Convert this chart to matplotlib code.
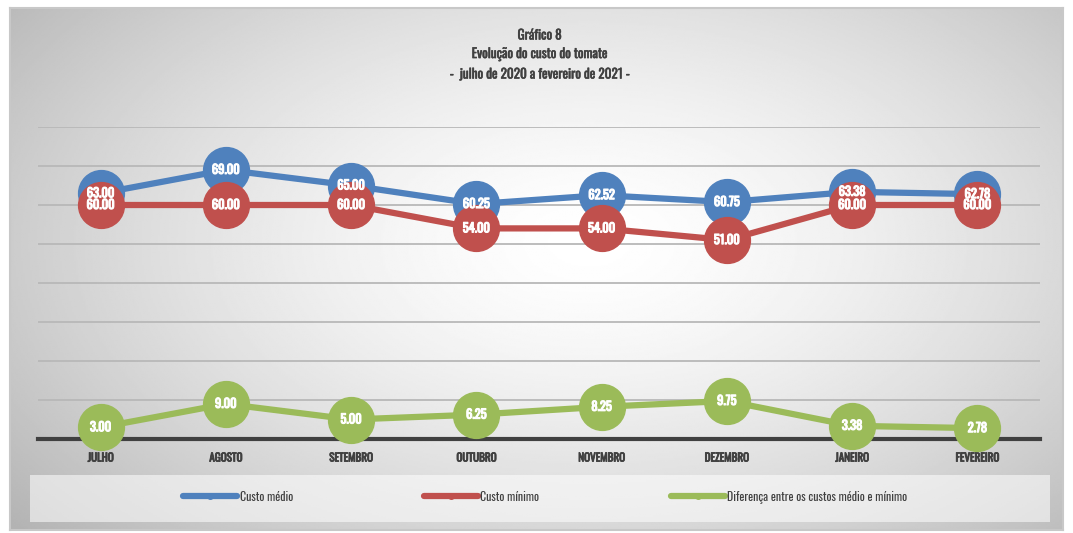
import numpy as np
import matplotlib.pyplot as plt
import matplotlib.patheffects as pe
from matplotlib.patches import Rectangle

meses = ['JULHO', 'AGOSTO', 'SETEMBRO', 'OUTUBRO', 'NOVEMBRO', 'DEZEMBRO', 'JANEIRO', 'FEVEREIRO']
custo_medio = [63.00, 69.00, 65.00, 60.25, 62.52, 60.75, 63.38, 62.78]
custo_minimo = [60.00, 60.00, 60.00, 54.00, 54.00, 51.00, 60.00, 60.00]
diferenca = [3.00, 9.00, 5.00, 6.25, 8.25, 9.75, 3.38, 2.78]

fonte = ['Oswald', 'DejaVu Sans']
plt.rcParams['font.family'] = fonte

fig = plt.figure(figsize=(10.73, 5.33), dpi=100)

# fundo com gradiente radial
bg = fig.add_axes([10/1073, 3/533, 1053/1073, 522/533], zorder=0)
yy, xx = np.mgrid[0:1:300j, 0:1:600j]
r = np.sqrt(((xx - 0.55) / 0.72) ** 2 + ((yy - 0.45) / 0.85) ** 2)
shade = 1 - 0.3 * np.clip(r, 0, 1) ** 1.5
bg.imshow(shade, cmap='gray', vmin=0, vmax=1, aspect='auto', extent=[0, 1, 0, 1])
bg.set_xlim(0, 1)
bg.set_ylim(0, 1)
bg.set_xticks([])
bg.set_yticks([])
for s in bg.spines.values():
    s.set_color('#c8c8c8')
    s.set_linewidth(1.5)
# faixa da legenda
bg.add_patch(Rectangle((20/1053, 8/522), 1020/1053, 47/522, facecolor='white', alpha=0.55, edgecolor='none'))

ax = fig.add_axes([38/1073, 1 - 439/533, 1002/1073, 312/533], zorder=2)
ax.patch.set_alpha(0)
x = np.arange(len(meses))
ax.set_xlim(-0.5, len(meses) - 0.5)
ax.set_ylim(0, 80)
ax.set_yticks(np.arange(10, 81, 10))
ax.yaxis.grid(True, color='#b8b8b8', lw=1.3)
ax.set_axisbelow(True)
ax.tick_params(axis='y', left=False, labelleft=False)
ax.tick_params(axis='x', length=0, pad=9)
ax.set_xticks(x)
ax.set_xticklabels(meses, fontsize=8, color='#404040')
for t in ax.get_xticklabels():
    t.set_path_effects([pe.withStroke(linewidth=0.6, foreground='#404040')])
for s in ['top', 'right', 'left']:
    ax.spines[s].set_visible(False)
ax.spines['bottom'].set_color('#404040')
ax.spines['bottom'].set_linewidth(3)
ax.spines['bottom'].set_zorder(1)

series = [
    (custo_medio, '#4f81bd', 'Custo médio'),
    (custo_minimo, '#c0504d', 'Custo mínimo'),
    (diferenca, '#9bbb59', 'Diferença entre os custos médio e mínimo'),
]
for vals, cor, nome in series:
    ax.plot(x, vals, color=cor, lw=4.5, marker='o', markersize=33, clip_on=False, zorder=3)
    ax.plot([], [], color=cor, lw=4.5, marker='o', markersize=4, solid_capstyle='round', label=nome)
for vals, cor, nome in series:
    for xi, v in zip(x, vals):
        ax.text(xi, v, f'{v:.2f}', ha='center', va='center', color='white', fontsize=9, zorder=5,
                path_effects=[pe.withStroke(linewidth=0.8, foreground='white')])

titulo = ['Gráfico 8', 'Evolução do custo do tomate', '-  julho de 2020 a fevereiro de 2021 -']
for ty, linha in zip([35, 54, 74], titulo):
    fig.text(0.503, 1 - ty/533, linha, ha='center', va='center', fontsize=9.5, color='#404040',
             path_effects=[pe.withStroke(linewidth=0.4, foreground='#404040')])

leg = fig.legend(loc='center', bbox_to_anchor=(0.508, 1 - 497/533), ncol=3, frameon=False,
                 fontsize=8.5, handlelength=4.6, handletextpad=0.2, columnspacing=11.1)
for t in leg.get_texts():
    t.set_color('#404040')

fig.savefig('out.png', dpi=100)
